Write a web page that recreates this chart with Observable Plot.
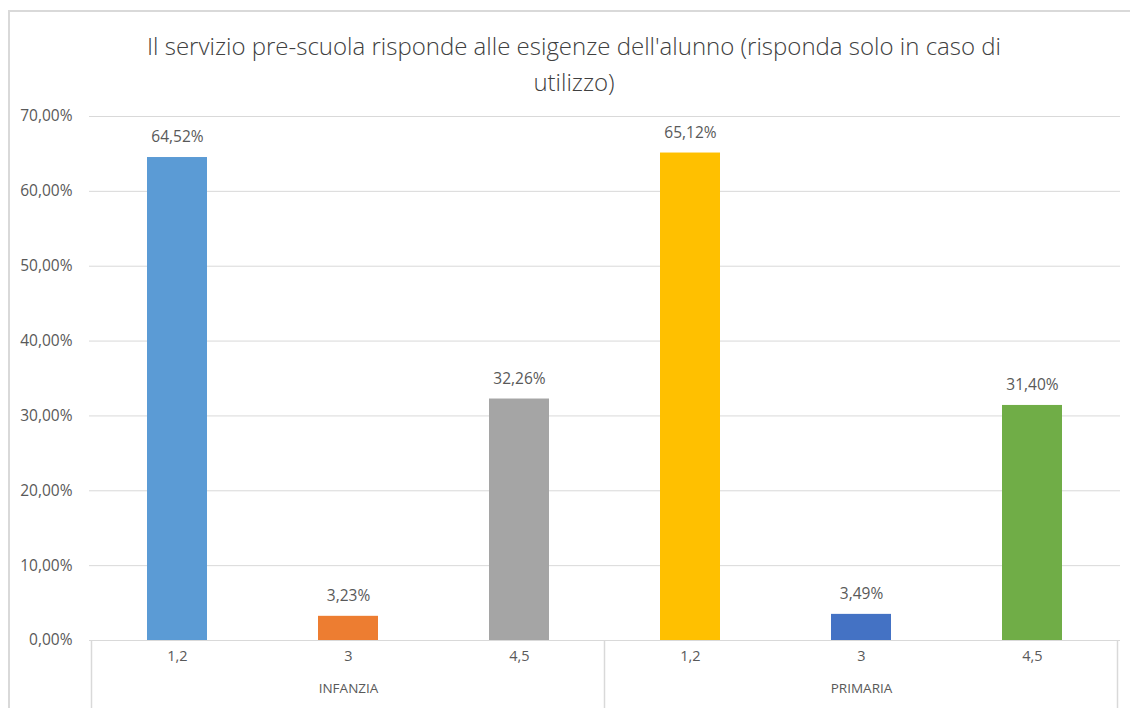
<!DOCTYPE html>
<html>
<head>
<meta charset="utf-8">
<script src="https://cdn.jsdelivr.net/npm/d3@7"></script>
<script src="https://cdn.jsdelivr.net/npm/@observablehq/plot@0.6"></script>
<style>
  html, body { margin: 0; padding: 0; background: #fff; }
  #wrap { position: relative; width: 1130px; height: 708px; overflow: hidden; background: #fff; font-family: "Open Sans", sans-serif; }
  #frame { position: absolute; left: 8px; top: 10px; right: -10px; bottom: -10px; border-left: 2px solid #d9d9d9; border-top: 2px solid #d9d9d9; }
  #title { position: absolute; left: 0; width: 1148px; top: 28px; text-align: center; font-family: "Open Sans", sans-serif; font-weight: 300; font-size: 24px; line-height: 36px; color: #404040; }
  #chart { position: absolute; left: 0; top: 100px; }
</style>
</head>
<body>
<div id="wrap">
  <div id="frame"></div>
  <div id="title">Il servizio pre-scuola risponde alle esigenze dell'alunno (risponda solo in caso di<br>utilizzo)</div>
  <div id="chart"></div>
</div>
<script>
const groups = ["INFANZIA", "INFANZIA", "INFANZIA", "PRIMARIA", "PRIMARIA", "PRIMARIA"];
const categories = ["1,2", "3", "4,5", "1,2", "3", "4,5"];
const values = [0.6452, 0.0323, 0.3226, 0.6512, 0.0349, 0.3140];
const colors = ["#5b9bd5", "#ed7d31", "#a5a5a5", "#ffc000", "#4472c4", "#70ad47"];
const groupNames = ["INFANZIA", "PRIMARIA"];
const yTicks = [0, 0.1, 0.2, 0.3, 0.4, 0.5, 0.6, 0.7];

const data = values.map((v, i) => ({key: groups[i] + "|" + categories[i], group: groups[i], cat: categories[i], value: v, color: colors[i]}));
const groupLabels = groupNames.map(g => {
  const members = data.filter(d => d.group === g);
  return {group: g, key: members[Math.floor(members.length / 2)].key};
});

const pct = v => (v * 100).toFixed(2).replace(".", ",") + "%";

const plot = Plot.plot({
  width: 1130,
  height: 608,
  marginLeft: 89,
  marginRight: 10,
  marginTop: 16,
  marginBottom: 68,
  style: {fontFamily: "'Open Sans', sans-serif", color: "#595959", background: "transparent"},
  x: {domain: data.map(d => d.key), paddingInner: 0.65, paddingOuter: 0.325, axis: null, label: null},
  y: {domain: [0, 0.7], axis: null, label: null},
  color: {type: "identity"},
  marks: [
    Plot.gridY(yTicks, {stroke: "#d9d9d9", strokeOpacity: 1, strokeWidth: 1}),
    Plot.barY(data, {x: "key", y: "value", fill: "color"}),
    Plot.text(data, {x: "key", y: "value", text: d => pct(d.value), dy: -20, fontSize: 15.5, fill: "#595959"}),
    Plot.axisY(yTicks, {tickSize: 0, tickPadding: 17, tickFormat: pct, fontSize: 15.5, fill: "#595959", label: null}),
    Plot.axisX(data.map(d => d.key), {tickSize: 0, tickPadding: 10, tickFormat: k => k.split("|")[1], fontSize: 14.5, fill: "#595959", label: null}),
    Plot.text(groupLabels, {x: "key", frameAnchor: "bottom", dy: 52, text: "group", fontSize: 13.5, fill: "#595959"})
  ]
});

document.getElementById("chart").appendChild(plot);

// group separators on the category axis, positioned through the x scale
const xs = plot.scale("x");
const ys = plot.scale("y");
const half = (xs.step - xs.bandwidth) / 2;
const y0 = ys.apply(0);
const bounds = [];
groupNames.forEach(g => {
  const members = data.filter(d => d.group === g);
  bounds.push(xs.apply(members[0].key) - half);
});
bounds.push(xs.apply(data[data.length - 1].key) + xs.bandwidth + half);
const svg = d3.select(plot);
svg.append("g").selectAll("line").data(bounds).join("line")
  .attr("x1", d => d).attr("x2", d => d)
  .attr("y1", y0).attr("y2", 608)
  .attr("stroke", "#d9d9d9").attr("stroke-width", 1.5);
</script>
</body>
</html>
